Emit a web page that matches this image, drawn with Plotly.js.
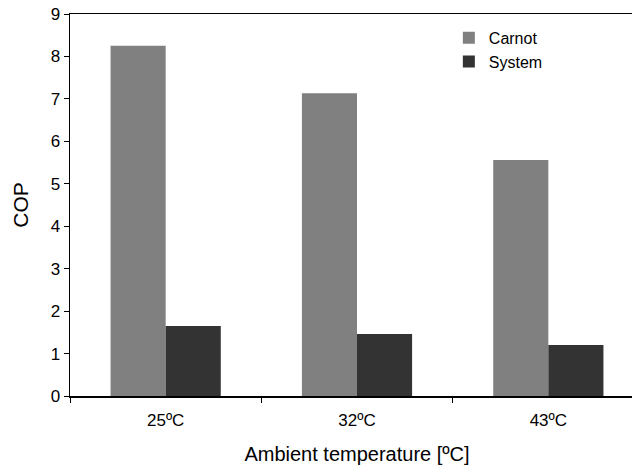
<!DOCTYPE html>
<html>
<head>
<meta charset="utf-8">
<script src="https://cdn.plot.ly/plotly-3.0.1.min.js"></script>
<style>
html, body { margin: 0; padding: 0; overflow: hidden; background: #fff; width: 632px; height: 467px; }
#chart { width: 644px; height: 467px; }
</style>
</head>
<body>
<div id="chart"></div>
<script>
const categories = ['25ºC', '32ºC', '43ºC'];
const carnot = [8.25, 7.13, 5.56];
const system = [1.65, 1.46, 1.20];
const yTicks = [0, 1, 2, 3, 4, 5, 6, 7, 8, 9];

const font = "Liberation Sans, Arial, sans-serif";

const data = [
  { type: 'bar', name: 'Carnot', x: categories, y: carnot, marker: { color: '#808080' } },
  { type: 'bar', name: 'System', x: categories, y: system, marker: { color: '#333333' } }
];

const layout = {
  width: 644,
  height: 467,
  margin: { l: 70, r: 0, t: 14, b: 71 },
  paper_bgcolor: '#ffffff',
  plot_bgcolor: '#ffffff',
  barmode: 'group',
  bargap: 0.424,
  bargroupgap: 0,
  font: { family: font, size: 17, color: '#000' },
  showlegend: true,
  legend: {
    x: 0.66, y: 0.982, xanchor: 'left', yanchor: 'top',
    bgcolor: 'rgba(0,0,0,0)', font: { family: font, size: 16, color: '#000' },
    tracegroupgap: 0
  },
  xaxis: {
    type: 'category',
    range: [-0.5, 2.5],
    tickson: 'boundaries',
    ticks: 'outside', ticklen: 5, tickwidth: 1, tickcolor: '#000',
    ticklabelstandoff: 8,
    showline: true, linecolor: '#000', linewidth: 1.5, mirror: true,
    showgrid: false, zeroline: false,
    tickfont: { family: font, size: 17 },
    title: { text: 'Ambient temperature [ºC]', font: { family: font, size: 20 }, standoff: 18 }
  },
  yaxis: {
    range: [0, 9],
    tickvals: yTicks,
    ticktext: yTicks.map(String),
    ticks: 'outside', ticklen: 5, tickwidth: 1, tickcolor: '#000',
    showline: true, linecolor: '#000', linewidth: 1.5,
    showgrid: false, zeroline: false,
    tickfont: { family: font, size: 17 },
    title: { text: 'COP', font: { family: font, size: 21 }, standoff: 16 }
  }
};

Plotly.newPlot('chart', data, layout, { displayModeBar: false, staticPlot: true });
</script>
</body>
</html>
